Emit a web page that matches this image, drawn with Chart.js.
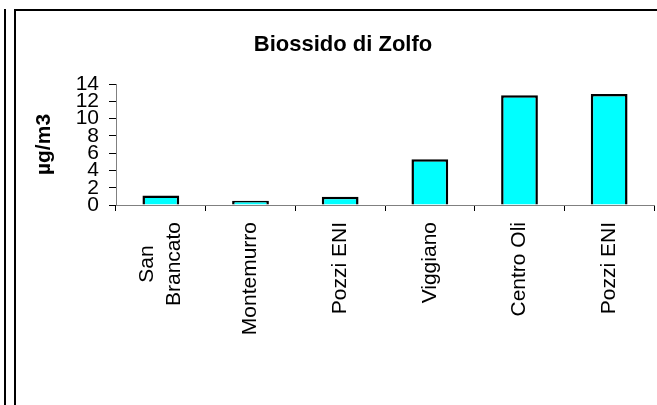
<!DOCTYPE html>
<html>
<head>
<meta charset="utf-8">
<script src="https://cdn.jsdelivr.net/npm/chart.js@4"></script>
<style>
  html, body { margin: 0; padding: 0; background: #fff; }
  #wrap { position: relative; width: 657px; height: 405px; overflow: hidden; }
  #chart { position: absolute; left: 0; top: 0; }
  .edge { position: absolute; background: #000; }
</style>
</head>
<body>
<div id="wrap">
  <canvas id="chart" width="657" height="405"></canvas>
  <div class="edge" style="left:4px; top:9px; width:2px; height:396px;"></div>
  <div class="edge" style="left:14px; top:9px; width:2px; height:396px;"></div>
  <div class="edge" style="left:14px; top:9px; width:643px; height:2px;"></div>
</div>
<script>
const stations = [['San', 'Brancato'], 'Montemurro', 'Pozzi ENI', 'Viggiano', 'Centro Oli', 'Pozzi ENI'];
const so2Values = [1.1, 0.5, 0.95, 5.3, 12.7, 12.85];
const yTicks = [0, 2, 4, 6, 8, 10, 12, 14];

const font = "'Liberation Sans', Arial, sans-serif";

// excel centres wrapped category labels, chart.js right-aligns them
const centerWrapped = {
  id: 'centerWrapped',
  afterLayout(chart) {
    const xs = chart.scales.x;
    const ctx = chart.ctx;
    xs.getLabelItems().forEach((item) => {
      if (!Array.isArray(item.label)) return;
      ctx.save();
      ctx.font = item.font.string;
      const w = Math.max(...item.label.map((l) => ctx.measureText(l).width));
      ctx.restore();
      const lh = item.font.lineHeight;
      const [tx, ty] = item.options.translation;
      item.options.textAlign = 'center';
      item.options.translation = [tx - lh * (item.label.length - 1) / 2, ty + w / 2];
    });
  }
};

new Chart(document.getElementById('chart'), {
  type: 'bar',
  data: {
    labels: stations,
    datasets: [{
      label: 'SO2',
      data: so2Values,
      backgroundColor: '#00ffff',
      borderColor: '#000',
      borderWidth: 2.5,
      categoryPercentage: 1,
      barPercentage: 0.41
    }]
  },
  plugins: [centerWrapped],
  options: {
    responsive: false,
    animation: false,
    layout: { padding: { left: 32, right: 3, top: 0, bottom: 0 } },
    plugins: {
      legend: { display: false },
      tooltip: { enabled: false },
      title: {
        display: true,
        text: 'Biossido di Zolfo',
        color: '#000',
        font: { family: font, size: 22, weight: 'bold' },
        padding: { top: 32, bottom: 25.6 }
      }
    },
    scales: {
      x: {
        grid: { offset: true, drawOnChartArea: false, color: '#000', tickLength: 6 },
        border: { color: '#808080', width: 1 },
        ticks: {
          autoSkip: false, minRotation: 90, maxRotation: 90,
          color: '#000', padding: 11,
          font: { family: font, size: 21, lineHeight: 1.3 }
        },
        afterFit: (s) => { s.height = 200; }
      },
      y: {
        min: 0, max: 14,
        grid: { drawOnChartArea: false, color: '#000', tickLength: 7 },
        border: { color: '#808080', width: 1 },
        ticks: {
          stepSize: 2, autoSkip: false, color: '#000', padding: 10,
          font: { family: font, size: 21 },
          callback: (v) => yTicks.includes(v) ? String(v) : ''
        },
        title: {
          display: true, text: 'µg/m3', color: '#000',
          font: { family: font, size: 21, weight: 'bold' },
          padding: { top: 0, bottom: 0 }
        },
        afterFit: (s) => { s.width = 84; }
      }
    }
  }
});
</script>
</body>
</html>
